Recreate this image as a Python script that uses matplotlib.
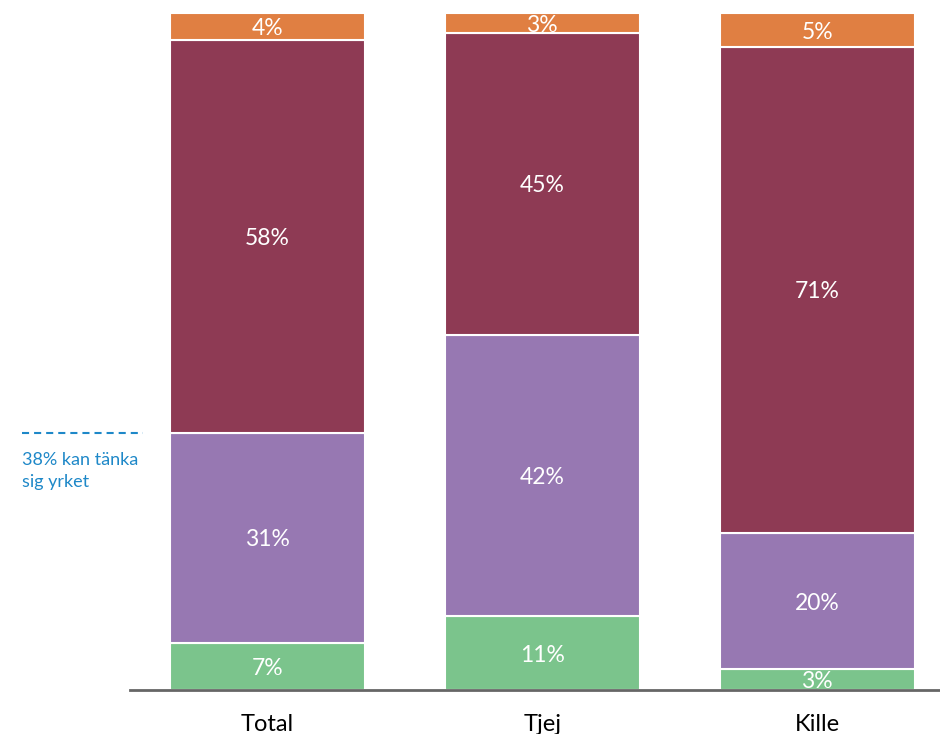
import matplotlib.pyplot as plt
import matplotlib.transforms as mtransforms
import numpy as np

plt.rcParams['font.family'] = ['Lato', 'DejaVu Sans']

groups = ['Total', 'Tjej', 'Kille']
# segment values, bottom to top (percent)
green = [7, 11, 3]
purple = [31, 42, 20]
red = [58, 45, 71]
orange = [4, 3, 5]
colors = ['#7bc48c', '#9778b2', '#8e3a54', '#e07f42']
note_value = 38
note_text = '38% kan tänka\nsig yrket'

series = np.array([green, purple, red, orange], dtype=float)
# stacks are drawn as shares of the column total
shares = series / series.sum(axis=0) * 100

fig = plt.figure(figsize=(9.4, 7.34), dpi=100)
ax = fig.add_axes([130 / 940, 1 - 690 / 734, 1 - 130 / 940, (690 - 13) / 734])

x = np.arange(len(groups))
bottom = np.zeros(len(groups))
for vals, shr, col in zip(series, shares, colors):
    ax.bar(x, shr, bottom=bottom, width=0.71, color=col, edgecolor='white', linewidth=1.5)
    for xi, b, h, v in zip(x, bottom, shr, vals):
        ax.text(xi, b + h / 2, f'{v:.0f}%', ha='center', va='center_baseline',
                color='white', fontsize=16.5)
    bottom += shr

ax.set_xlim(-0.5, 2.447)
ax.set_ylim(0, 100)
ax.set_xticks(x)
ax.set_xticklabels(groups, fontsize=17)
ax.tick_params(axis='x', length=0, pad=17)
ax.set_yticks([])
for s in ['top', 'right', 'left']:
    ax.spines[s].set_visible(False)
ax.spines['bottom'].set_color('#666666')
ax.spines['bottom'].set_linewidth(2)
ax.spines['bottom'].set_zorder(5)

# dashed marker for the share that can imagine the job
trans = mtransforms.blended_transform_factory(fig.transFigure, ax.transData)
ax.plot([22 / 940, 143 / 940], [note_value, note_value], transform=trans,
        color='#1e88c8', linestyle=(0, (3.4, 2.4)), linewidth=1.5, clip_on=False)
off = mtransforms.offset_copy(trans, fig=fig, y=-14, units='points')
ax.text(22 / 940, note_value, note_text, transform=off, ha='left', va='top',
        color='#1e88c8', fontsize=13, linespacing=1.45)

fig.savefig('out.png', dpi=100)
